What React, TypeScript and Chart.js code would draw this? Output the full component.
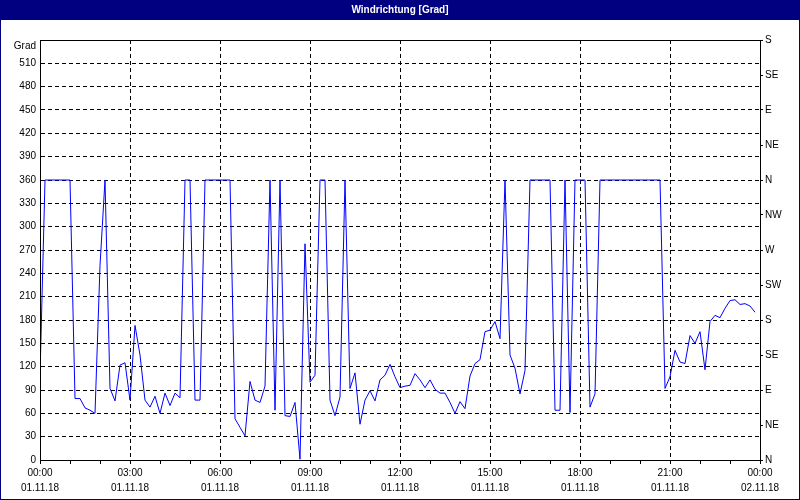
import React, { useEffect, useRef } from "react";
import { Chart, registerables } from "chart.js";

Chart.register(...registerables);

// Wind direction in degrees, one value every 10 minutes (01.11.18 00:00 – 23:50)
const dir00to06 = [108, 360, 360, 360, 360, 360, 360, 79, 79, 67, 64, 60, 250, 360, 92, 76, 122, 125, 77, 173, 135, 77, 68, 82, 60, 86, 70, 86, 80, 360, 360, 77, 77, 360, 360, 360];
const dir06to12 = [360, 360, 360, 53, 42, 31, 101, 77, 74, 95, 360, 64, 360, 57, 56, 74, 1, 278, 100, 109, 360, 360, 77, 57, 81, 360, 92, 112, 46, 77, 89, 76, 103, 109, 123, 107];
const dir12to18 = [93, 95, 96, 111, 103, 93, 103, 91, 86, 86, 74, 60, 75, 66, 108, 124, 129, 165, 167, 178, 156, 360, 135, 118, 85, 115, 360, 360, 360, 360, 360, 64, 64, 360, 61, 360];
const dir18to24 = [360, 360, 68, 85, 360, 360, 360, 360, 360, 360, 360, 360, 360, 360, 360, 360, 360, 92, 107, 141, 126, 124, 160, 150, 165, 116, 178, 186, 183, 195, 205, 206, 200, 201, 198, 190];

const directions = [...dir00to06, ...dir06to12, ...dir12to18, ...dir18to24];
const sampleMinutes = 10;

const hourTicks = ["00:00", "03:00", "06:00", "09:00", "12:00", "15:00", "18:00", "21:00", "00:00"];
const dateTicks = ["01.11.18", "01.11.18", "01.11.18", "01.11.18", "01.11.18", "01.11.18", "01.11.18", "01.11.18", "02.11.18"];
const compassLabels = ["N", "NE", "E", "SE", "S", "SW", "W", "NW"];
const chartTitle = "Windrichtung [Grad]";
const unitLabel = "Grad";

export default function App() {
  const ref = useRef<HTMLCanvasElement>(null);

  useEffect(() => {
    if (!ref.current) return;
    const navy = "#000080";
    const font = "'Liberation Sans', Arial, sans-serif";

    const framePlugin = {
      id: "frame",
      beforeDraw(chart: any) {
        const { ctx, width, height } = chart;
        ctx.save();
        ctx.fillStyle = "#ffffff";
        ctx.fillRect(0, 0, width, height);
        ctx.fillStyle = navy;
        ctx.fillRect(0, 0, width, 20);
        ctx.restore();
      },
      afterDraw(chart: any) {
        const { ctx, chartArea: a, width, height } = chart;
        ctx.save();
        ctx.lineWidth = 1;
        ctx.strokeStyle = "#000000";
        ctx.strokeRect(Math.floor(a.left) + 0.5, Math.floor(a.top) + 0.5, Math.round(a.right - a.left), Math.round(a.bottom - a.top));
        ctx.strokeStyle = navy;
        ctx.strokeRect(0.5, 0.5, width - 1, height - 1);
        ctx.restore();
      },
    };

    const data = directions.map((v, i) => ({ x: (i * sampleMinutes) / 60, y: v }));

    const chart = new Chart(ref.current, {
      type: "line",
      data: {
        datasets: [
          {
            data,
            borderColor: "#0000ff",
            borderWidth: 1,
            pointRadius: 0,
            tension: 0,
            fill: false,
            yAxisID: "y",
          },
        ],
      },
      plugins: [framePlugin],
      options: {
        responsive: false,
        devicePixelRatio: 1,
        animation: false,
        layout: { padding: 0 },
        plugins: {
          legend: { display: false },
          tooltip: { enabled: false },
          title: {
            display: true,
            text: chartTitle,
            color: "#ffffff",
            font: { family: font, size: 10, weight: "bold", lineHeight: 1.2 },
            padding: { top: 4, bottom: 24 },
          },
        },
        scales: {
          x: {
            type: "linear",
            min: 0,
            max: 24,
            afterFit: (s: any) => {
              s.height = 40;
            },
            ticks: {
              stepSize: 1,
              autoSkip: false,
              maxRotation: 0,
              minRotation: 0,
              padding: 2,
              color: "#000",
              font: { family: font, size: 10, lineHeight: 1.5 },
              callback: (v: any) => {
                const n = Number(v);
                if (n % 3 !== 0) return "";
                return [hourTicks[n / 3], dateTicks[n / 3]];
              },
            },
            grid: {
              color: (c: any) => (c.tick && c.tick.value % 3 === 0 ? "#000000" : "rgba(0,0,0,0)"),
              tickColor: "#000000",
              tickLength: 4,
              lineWidth: 1,
            },
            border: { display: true, color: "#000000", width: 1, dash: [4, 3] },
          },
          y: {
            type: "linear",
            position: "left",
            min: 0,
            max: 540,
            afterFit: (s: any) => {
              s.width = 40;
            },
            ticks: {
              stepSize: 30,
              autoSkip: false,
              padding: 4,
              color: "#000",
              font: { family: font, size: 10, lineHeight: 1.2 },
              callback: (v: any) => (Number(v) === 540 ? ["", unitLabel] : String(v)),
            },
            grid: { color: "#000000", drawTicks: false, lineWidth: 1 },
            border: { display: true, color: "#000000", width: 1, dash: [4, 3] },
          },
          y2: {
            type: "linear",
            position: "right",
            min: 0,
            max: 540,
            afterFit: (s: any) => {
              s.width = 40;
            },
            ticks: {
              stepSize: 45,
              autoSkip: false,
              padding: 2,
              color: "#000",
              font: { family: font, size: 10 },
              callback: (v: any) => compassLabels[Math.round(Number(v) / 45) % 8],
            },
            grid: { drawOnChartArea: false, color: "#000000", tickColor: "#000000", tickLength: 3 },
            border: { display: true, color: "#000000", width: 1 },
          },
        },
      },
    } as any);

    return () => chart.destroy();
  }, []);

  return (
    <div style={{ position: "absolute", left: 0, top: 0, width: 800, height: 500, background: "#fff" }}>
      <canvas ref={ref} width={800} height={500} style={{ display: "block" }} />
    </div>
  );
}
